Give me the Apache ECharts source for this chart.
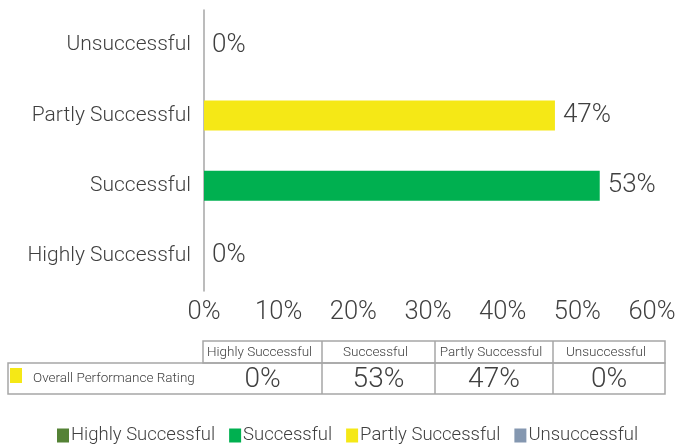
<!DOCTYPE html>
<html>
<head>
<meta charset="utf-8">
<script src="https://cdn.jsdelivr.net/npm/echarts@6/dist/echarts.min.js"></script>
<style>
html,body{margin:0;padding:0;background:#fff;}
#chart{width:680px;height:444px;}
</style>
</head>
<body>
<div id="chart"></div>
<script>
var categories = ['Highly Successful', 'Successful', 'Partly Successful', 'Unsuccessful'];
var values = [0, 53, 47, 0];
var colors = ['#548235', '#00b050', '#f5e816', '#8497b0'];
var xTicks = [0, 10, 20, 30, 40, 50, 60];
var tableSeriesName = 'Overall Performance Rating';

var FONT = 'Roboto';
var TXT = '#404040';

var series = categories.map(function (name, i) {
  return {
    name: name,
    type: 'bar',
    stack: 'total',
    barWidth: 30,
    itemStyle: { color: colors[i] },
    data: categories.map(function (c, j) { return j === i ? values[j] : '-'; }),
    label: {
      show: true,
      position: 'right',
      distance: 8,
      formatter: function (p) { return p.value + '%'; },
      fontFamily: FONT,
      fontWeight: 300,
      fontSize: 26,
      color: TXT
    }
  };
});

// data table built from the arrays
var colX = [203, 322, 435, 553, 665];
var tblLeft = 8, rowTop = 341, rowMid = 363, rowBot = 394;
var lineStyle = { stroke: '#a6a6a6', lineWidth: 1.5 };
var graphics = [];
graphics.push({ type: 'rect', shape: { x: colX[0], y: rowTop, width: colX[4] - colX[0], height: rowMid - rowTop }, style: { fill: 'none', stroke: '#a6a6a6', lineWidth: 1.5 } });
graphics.push({ type: 'rect', shape: { x: tblLeft, y: rowMid, width: colX[4] - tblLeft, height: rowBot - rowMid }, style: { fill: 'none', stroke: '#a6a6a6', lineWidth: 1.5 } });
for (var k = 1; k < 4; k++) {
  graphics.push({ type: 'line', shape: { x1: colX[k], y1: rowTop, x2: colX[k], y2: rowBot }, style: lineStyle });
}
categories.forEach(function (c, i) {
  var cx = (colX[i] + colX[i + 1]) / 2;
  graphics.push({ type: 'text', x: cx - 3, y: (rowTop + rowMid) / 2 + 1, style: { text: c, fontFamily: FONT, fontWeight: 300, fontSize: 13.5, fill: TXT, textAlign: 'center', textVerticalAlign: 'middle' } });
  graphics.push({ type: 'text', x: cx, y: (rowMid + rowBot) / 2 + 1, style: { text: values[i] + '%', fontFamily: FONT, fontWeight: 300, fontSize: 28, fill: TXT, textAlign: 'center', textVerticalAlign: 'middle' } });
});
graphics.push({ type: 'rect', shape: { x: 10, y: 368, width: 12, height: 15 }, style: { fill: colors[2] } });
graphics.push({ type: 'text', x: 33, y: 379, style: { text: tableSeriesName, fontFamily: FONT, fontWeight: 300, fontSize: 13.5, fill: TXT, textAlign: 'left', textVerticalAlign: 'middle' } });

var chart = echarts.init(document.getElementById('chart'), null, { renderer: 'canvas' });
chart.setOption({
  animation: false,
  backgroundColor: '#fff',
  textStyle: { fontFamily: FONT },
  grid: { left: 204, top: 10, width: 448, height: 281, containLabel: false },
  xAxis: {
    type: 'value',
    min: xTicks[0],
    max: xTicks[xTicks.length - 1],
    interval: xTicks[1] - xTicks[0],
    axisLine: { show: false },
    axisTick: { show: false },
    splitLine: { show: false },
    axisLabel: {
      formatter: '{value}%',
      fontFamily: FONT, fontWeight: 300, fontSize: 25.5, color: TXT, margin: 9
    }
  },
  yAxis: {
    type: 'category',
    data: categories,
    axisLine: { show: true, lineStyle: { color: '#a6a6a6', width: 1.5 } },
    axisTick: { show: false },
    axisLabel: { fontFamily: FONT, fontWeight: 300, fontSize: 21, color: TXT, margin: 13 }
  },
  legend: {
    data: categories,
    left: 52,
    top: 421,
    padding: 5,
    icon: 'rect',
    itemWidth: 12,
    itemHeight: 14,
    itemGap: 14,
    textStyle: { fontFamily: FONT, fontWeight: 300, fontSize: 18.5, color: TXT, padding: [0, 0, 0, -3] }
  },
  series: series,
  graphic: graphics
});
</script>
</body>
</html>
